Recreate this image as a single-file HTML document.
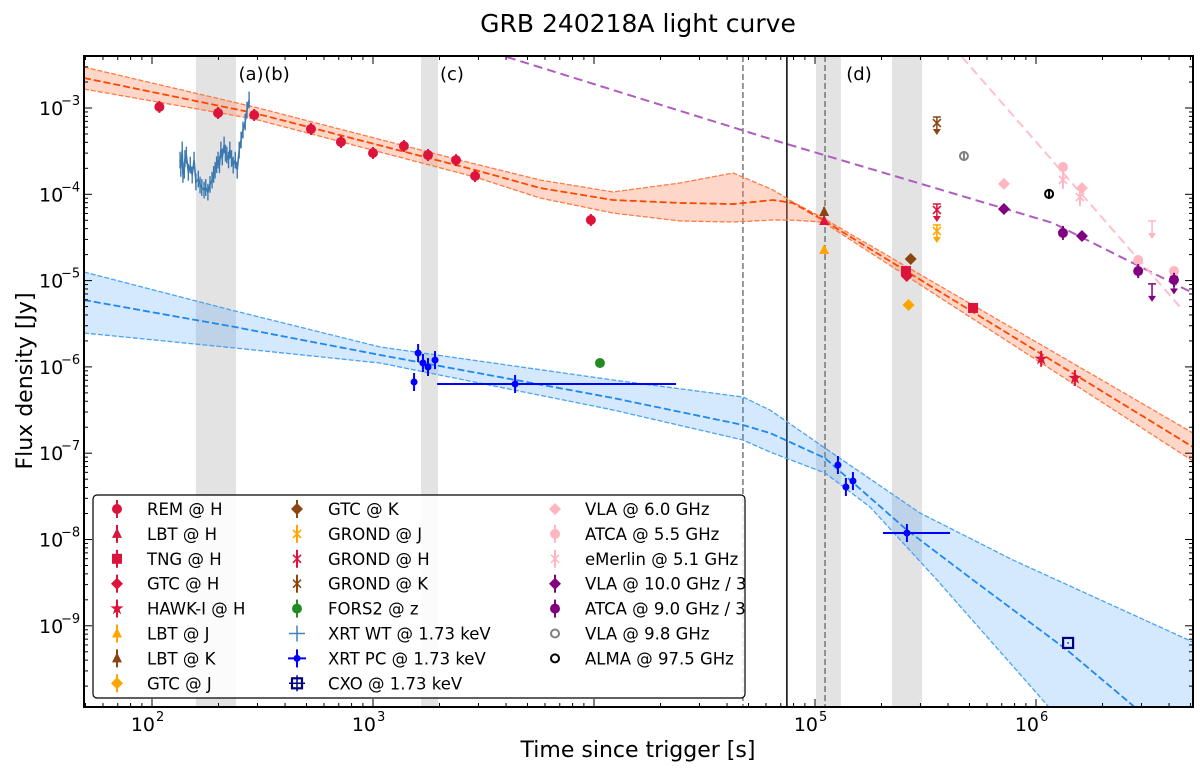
<!DOCTYPE html>
<html><head><meta charset="utf-8"><title>GRB 240218A light curve</title>
<style>
html,body{margin:0;padding:0;background:#fff;width:1200px;height:769px;overflow:hidden;}
svg{display:block;font-family:"DejaVu Sans","Liberation Sans",sans-serif;}
</style></head>
<body>
<svg id="chart" width="1200" height="769" viewBox="0 0 1200 769" xmlns="http://www.w3.org/2000/svg">
<defs><clipPath id="pc"><rect x="84" y="56" width="1109" height="651"/></clipPath></defs>
<text x="638" y="32" font-size="25" text-anchor="middle">GRB 240218A light curve</text>
<text x="638" y="757" font-size="22" text-anchor="middle">Time since trigger [s]</text>
<text transform="translate(32,381) rotate(-90)" font-size="22" text-anchor="middle">Flux density [Jy]</text>
<g id="bg" clip-path="url(#pc)"></g>
<g id="marks" clip-path="url(#pc)"></g>
<g id="axes"></g>
<g id="legend"></g>
</svg>
<script>
// ---------- data ----------
const remT=[108,199,290,524,716,1000,1380,1774,2375,2897,9680];
const remF=[1.03e-3,8.75e-4,8.3e-4,5.71e-4,4.04e-4,3.01e-4,3.63e-4,2.85e-4,2.49e-4,1.63e-4,5.04e-5];
const lbtHT=[110000], lbtHF=[4.91e-5];
const lbtJT=[110000], lbtJF=[2.26e-5];
const lbtKT=[110000], lbtKF=[6.24e-5];
const tngHT=[258000,519000], tngHF=[1.29e-5,4.82e-6];
const gtcHT=[260000], gtcHF=[1.13e-5];
const gtcJT=[265000], gtcJF=[5.21e-6];
const gtcKT=[271000], gtcKF=[1.78e-5];
const hawkT=[1055000,1500000], hawkF=[1.24e-6,7.43e-7];
const grondJT=[356000], grondJF=[3.76e-5];
const grondHT=[356000], grondHF=[6.58e-5];
const grondKT=[356000], grondKF=[6.7e-4];
const forsT=[10640], forsF=[1.11e-6];
const wtT=[134,135,137,138,140,141,143,146,149,152,155,158,162,165,168,172,175,179,183,187,190,193,196,199,202,205,208,212,215,218,222,225,229,233,238,243,248,253,258,264,269,275];
const wtF=[2.49e-4,2.0e-4,3.26e-4,1.7e-4,1.9e-4,2.6e-4,2.85e-4,1.8e-4,2.18e-4,1.67e-4,2.49e-4,1.39e-4,1.5e-4,1.28e-4,1.2e-4,1.12e-4,1.2e-4,1.06e-4,1.3e-4,1.46e-4,1.7e-4,1.9e-4,2.2e-4,2.49e-4,2.2e-4,3.26e-4,2.7e-4,3.73e-4,3.0e-4,2.85e-4,2.5e-4,3.26e-4,2.6e-4,2.18e-4,2.49e-4,1.9e-4,3.26e-4,4.26e-4,5.56e-4,6.88e-4,9.48e-4,1.24e-3];
const pcT=[1534,1600,1683,1774,1908,4395,127000,138000,148500,260600];
const pcF=[6.68e-7,1.45e-6,1.11e-6,9.98e-7,1.2e-6,6.34e-7,7.3e-8,4.06e-8,4.76e-8,1.19e-8];
const pcTlo=[1534,1600,1683,1774,1908,1950,127000,138000,148500,203000];
const pcThi=[1534,1600,1683,1774,1908,23500,127000,138000,148500,408000];
const cxoT=[1397000], cxoF=[6.33e-10];
const vla6T=[716000,1614000], vla6F=[1.32e-4,1.18e-4];
const atca55T=[1324000,2900000,4210000], atca55F=[2.07e-4,1.73e-5,1.29e-5];
const atca55UlT=[3350000], atca55UlF=[4.18e-5];
const emerT=[1324000,1580000], emerF=[1.47e-4,9.3e-5];
const vla10T=[716000,1614000], vla10F=[6.76e-5,3.29e-5];
const atca9T=[1324000,2900000,4210000], atca9F=[3.57e-5,1.29e-5,1.02e-5];
const atca9UlT=[3350000,4210000], atca9UlF=[7.8e-6,9.5e-6];
const vla98T=[472000], vla98F=[2.78e-4];
const almaT=[1146000], almaF=[1.01e-4];
// model curves (log10 t, log10 F)
const optLogT=[1.692,2.462,3.462,3.756,4.086,4.389,4.63,4.81,4.90,5.036,6.71];
const optMid=[-2.652,-3.058,-3.718,-3.927,-4.066,-4.10,-4.113,-4.066,-4.10,-4.298,-6.928];
const optUp=[-2.525,-2.988,-3.649,-3.834,-3.973,-3.869,-3.753,-3.95,-4.09,-4.275,-6.766];
const optLo=[-2.78,-3.127,-3.80,-4.043,-4.217,-4.309,-4.321,-4.298,-4.30,-4.321,-7.09];
const xMidT=[1.692,2.376,3.032,4.086,4.674,4.796,5.045,5.416,5.715,6.14,6.71];
const xMid=[-5.225,-5.538,-5.862,-6.36,-6.673,-6.766,-7.056,-7.89,-8.469,-9.28,-10.51];
const xUpT=[1.692,2.376,3.032,4.086,4.674,4.796,5.045,5.475,5.896,6.71];
const xUp=[-4.9,-5.352,-5.769,-6.152,-6.349,-6.499,-6.94,-7.693,-8.238,-9.188];
const xLoT=[1.692,2.376,3.032,4.086,4.674,4.796,5.045,5.249,5.552,6.054,6.71];
const xLo=[-5.607,-5.781,-5.955,-6.499,-6.847,-6.986,-7.229,-7.623,-8.469,-9.929,-11.83];
const radioLogT=[3.606,4.842,6.077,6.71];
const radioLog=[-2.409,-3.394,-4.333,-5.144];
const pinkLogT=[5.665,6.652];
const pinkLog=[-2.409,-5.306];
const vdashT=[47200,111000];
const vsolidT=[74600];
const shadeLo=[158,1650,101000,223000];
const shadeHi=[240,1970,131000,305000];
const xTicks=[100,1000,100000,1000000];
const xTickLabels=["2","3","5","6"];
const yTickExp=[-9,-8,-7,-6,-5,-4,-3];

// ---------- axes functions ----------
const L=84,R=1193,T=56,B=707;
const X=t=>152+221*(Math.log10(t)-2);
const Y=f=>108-86.3*(Math.log10(f)+3);
const XL=lt=>152+221*(lt-2);
const YL=lf=>108-86.3*(lf+3);
const NS="http://www.w3.org/2000/svg";
function mk(tag,attrs,parent){const e=document.createElementNS(NS,tag);for(const k in attrs)e.setAttribute(k,attrs[k]);parent.appendChild(e);return e;}
const bg=document.getElementById('bg'),marks=document.getElementById('marks'),axes=document.getElementById('axes'),leg=document.getElementById('legend');

shadeLo.forEach((lo,i)=>{const r=mk('rect',{x:X(lo),y:T,width:X(shadeHi[i])-X(lo),height:B-T,fill:'#e3e3e3'},bg);

});
[['(a)',251],['(b)',277],['(c)',452],['(d)',859]].forEach(([s,x])=>{const t=mk('text',{x:x,y:80,'font-size':18,'text-anchor':'middle'},axes);t.textContent=s;

});
vdashT.forEach(t=>{const l=mk('line',{x1:X(t),x2:X(t),y1:T,y2:B,stroke:'#777','stroke-width':1.5,'stroke-dasharray':'6,3'},bg);

});
vsolidT.forEach(t=>{const l=mk('line',{x1:X(t),x2:X(t),y1:T,y2:B,stroke:'#000','stroke-width':1.5},bg);

});

function pts(lt,lf){return lt.map((v,i)=>XL(v)+','+YL(lf[i])).join(' ');}
function band(lt1,up,lt2,lo,fill,edge,midT,mid,midc,name){
 const p=mk('polygon',{points:pts(lt1,up)+' '+lt2.slice().reverse().map((v,i)=>XL(v)+','+YL(lo.slice().reverse()[i])).join(' '),fill:fill,stroke:'none'},bg);
 
 
 [[lt1,up],[lt2,lo]].forEach(([a,b])=>{const e=mk('polyline',{points:pts(a,b),fill:'none',stroke:edge,'stroke-width':1.3,'stroke-dasharray':'5,2'},bg);
 
 });
 const m=mk('polyline',{points:pts(midT,mid),fill:'none',stroke:midc,'stroke-width':1.8,'stroke-dasharray':'7,3'},bg);
 
 
}
band(optLogT,optUp,optLogT,optLo,'rgba(255,140,100,0.35)','#ff7a45',optLogT,optMid,'#ff4500','optical');
band(xUpT,xUp,xLoT,xLo,'rgba(60,150,250,0.22)','#4aa3f5',xMidT,xMid,'#1e88ee','xray');
let rl=mk('polyline',{points:pts(radioLogT,radioLog),fill:'none',stroke:'#b05cbf','stroke-width':2,'stroke-dasharray':'9,5'},bg);


let pl=mk('polyline',{points:pts(pinkLogT,pinkLog),fill:'none',stroke:'#ffc0cb','stroke-width':2,'stroke-dasharray':'9,5'},bg);



// XRT WT trace with error bars
const wtG=mk('g',{},marks);


mk('polyline',{points:wtT.map((t,i)=>X(t)+','+Y(wtF[i])).join(' '),fill:'none',stroke:'#3b78b0','stroke-width':1.6},wtG);
wtT.forEach((t,i)=>{mk('line',{x1:X(t),x2:X(t),y1:Y(wtF[i]*1.25),y2:Y(wtF[i]/1.25),stroke:'#3b78b0','stroke-width':1.4},wtG);});

// ---------- markers ----------
function marker(g,type,x,y,c,s){
 s=s||5;
 if(type==='o')mk('circle',{cx:x,cy:y,r:s,fill:c},g);
 else if(type==='oo')mk('circle',{cx:x,cy:y,r:s-1,fill:'none',stroke:c,'stroke-width':2},g);
 else if(type==='^')mk('polygon',{points:`${x},${y-s-1} ${x-s},${y+s-1} ${x+s},${y+s-1}`,fill:c},g);
 else if(type==='s')mk('rect',{x:x-s,y:y-s,width:2*s,height:2*s,fill:c},g);
 else if(type==='D')mk('polygon',{points:`${x},${y-s-1} ${x+s+1},${y} ${x},${y+s+1} ${x-s-1},${y}`,fill:c},g);
 else if(type==='*'){let p=[];for(let k=0;k<10;k++){const a=-Math.PI/2+k*Math.PI/5,r=k%2?s*0.45:s+1;p.push((x+r*Math.cos(a))+','+(y+r*Math.sin(a)));}mk('polygon',{points:p.join(' '),fill:c},g);}
 else if(type==='x'){mk('path',{d:`M${x-4},${y-4}L${x+4},${y+4}M${x-4},${y+4}L${x+4},${y-4}`,stroke:c,'stroke-width':1.6},g);}
 else if(type==='+'){mk('path',{d:`M${x-8},${y}L${x+8},${y}M${x},${y-8}L${x},${y+8}`,stroke:c,'stroke-width':1.5},g);}
 else if(type==='p'){mk('circle',{cx:x,cy:y,r:3.5,fill:c},g);}
 else if(type==='sq'){mk('rect',{x:x-5,y:y-5,width:10,height:10,fill:'none',stroke:c,'stroke-width':2.2},g);mk('circle',{cx:x,cy:y,r:0.8,fill:c},g);}
}
function errbar(g,x,y,c,e){mk('line',{x1:x,x2:x,y1:y-e,y2:y+e,stroke:c,'stroke-width':2},g);}
function arrow(g,x,y,c,len){mk('line',{x1:x,x2:x,y1:y,y2:y+len,stroke:c,'stroke-width':1.5},g);mk('polygon',{points:`${x-4},${y+len-4} ${x+4},${y+len-4} ${x},${y+len+2}`,fill:c},g);}
function series(name,tArr,fArr,type,c,e,opt){
 opt=opt||{};
 tArr.forEach((t,i)=>{
  const g=mk('g',{},marks);
  
  
  const x=X(t),y=Y(fArr[i]);
  if(e)errbar(g,x,y,c,e);
  if(opt.ul){mk('line',{x1:x-4,x2:x+4,y1:y-6,y2:y-6,stroke:c,'stroke-width':1.5},g);arrow(g,x,y-6,c,16);}
  if(opt.xerr){mk('line',{x1:X(pcTlo[i]),x2:X(pcThi[i]),y1:y,y2:y,stroke:c,'stroke-width':2},g);}
  marker(g,type,x,y,c,opt.s);
 });
}
const RED='#dc143c',ORA='#ffa500',BRN='#8b4513',PNK='#ffb6c1',PUR='#800080';
series('rem-h',remT,remF,'o',RED,6);
series('lbt-k',lbtKT,lbtKF,'^',BRN,5);
series('lbt-h',lbtHT,lbtHF,'^',RED,4);
series('lbt-j',lbtJT,lbtJF,'^',ORA,0);
series('tng-h',tngHT,tngHF,'s',RED,4);
series('gtc-h',gtcHT,gtcHF,'D',RED,4);
series('gtc-j',gtcJT,gtcJF,'D',ORA,0);
series('gtc-k',gtcKT,gtcKF,'D',BRN,0);
series('hawki-h',hawkT,hawkF,'*',RED,8,{s:6});
series('grond-k',grondKT,grondKF,'x',BRN,0,{ul:true});
series('grond-h',grondHT,grondHF,'x',RED,0,{ul:true});
series('grond-j',grondJT,grondJF,'x',ORA,0,{ul:true});
series('fors2-z',forsT,forsF,'o','#228b22',0);
series('xrt-pc',pcT,pcF,'p','#0000ff',9,{xerr:true});
series('cxo',cxoT,cxoF,'sq','#000080',0);
series('vla-6ghz',vla6T,vla6F,'D',PNK,0);
series('atca-5.5ghz',atca55T,atca55F,'o',PNK,0);
series('atca-5.5ghz-ul',atca55UlT,atca55UlF,'o',PNK,0,{ul:true,s:0.01});
series('emerlin',emerT,emerF,'x',PNK,9);
series('vla-10ghz',vla10T,vla10F,'D',PUR,0);
series('atca-9ghz',atca9T,atca9F,'o',PUR,7);
series('atca-9ghz-ul',atca9UlT,atca9UlF,'o',PUR,0,{ul:true,s:0.01});
series('vla-9.8ghz',vla98T,vla98F,'oo','#808080',5);
series('alma',almaT,almaF,'oo','#000',5);

// ---------- axes ----------
let fr=mk('rect',{x:L,y:T,width:R-L,height:B-T,fill:'none',stroke:'#000','stroke-width':2},axes);


for(let d=1;d<=6;d++)for(let m=1;m<=9;m++){const t=m*Math.pow(10,d),x=X(t);if(x<L||x>R)continue;const len=m===1?8:4;
 mk('line',{x1:x,x2:x,y1:B,y2:B-len,stroke:'#000','stroke-width':1},axes);mk('line',{x1:x,x2:x,y1:T,y2:T+len,stroke:'#000','stroke-width':1},axes);}
xTicks.forEach((t,i)=>{const tx=mk('text',{x:X(t)+3,y:731,'font-size':19,'text-anchor':'end'},axes);tx.textContent='10';
 
 
 const sp=mk('text',{x:X(t)+4,y:721,'font-size':13},axes);sp.textContent=xTickLabels[i];});
for(let e=-10;e<=-3;e++)for(let m=1;m<=9;m++){const f=m*Math.pow(10,e),y=Y(f);if(y<T||y>B)continue;const len=m===1?8:4;
 mk('line',{x1:L,x2:L+len,y1:y,y2:y,stroke:'#000','stroke-width':1},axes);mk('line',{x1:R,x2:R-len,y1:y,y2:y,stroke:'#000','stroke-width':1},axes);}
yTickExp.forEach(e=>{const y=Y(Math.pow(10,e));const tx=mk('text',{x:39,y:y+7,'font-size':19},axes);tx.textContent='10';
 
 
 const sp=mk('text',{x:61,y:y-3,'font-size':13},axes);sp.textContent='\u2212'+(-e);});

// ---------- legend ----------
const lb=mk('rect',{x:93,y:495,width:652,height:203,rx:4,fill:'rgba(255,255,255,0.85)',stroke:'#000','stroke-width':1.2},leg);


const legItems=[
 [0,'REM @ H','o',RED,1],[0,'LBT @ H','^',RED,1],[0,'TNG @ H','s',RED,1],[0,'GTC @ H','D',RED,1],[0,'HAWK-I @ H','*',RED,1],[0,'LBT @ J','^',ORA,1],[0,'LBT @ K','^',BRN,1],[0,'GTC @ J','D',ORA,1],
 [1,'GTC @ K','D',BRN,1],[1,'GROND @ J','x',ORA,1],[1,'GROND @ H','x',RED,1],[1,'GROND @ K','x',BRN,1],[1,'FORS2 @ z','o','#228b22',1],[1,'XRT WT @ 1.73 keV','+','#4682b4',0],[1,'XRT PC @ 1.73 keV','p','#0000ff',0],[1,'CXO @ 1.73 keV','sq','#000080',0],
 [2,'VLA @ 6.0 GHz','D',PNK,0],[2,'ATCA @ 5.5 GHz','o',PNK,1],[2,'eMerlin @ 5.1 GHz','x',PNK,1],[2,'VLA @ 10.0 GHz / 3','D',PUR,1],[2,'ATCA @ 9.0 GHz / 3','o',PUR,1],[2,'VLA @ 9.8 GHz','oo','#808080',0],[2,'ALMA @ 97.5 GHz','oo','#000',0]];
const colMX=[117,297,555],colTX=[147,328,585];
const cnt=[0,0,0];
legItems.forEach(([c,label,type,col,eb])=>{
 const y=509+24.9*cnt[c]++;
 const g=mk('g',{},leg);
 
 
 if(eb)errbar(g,colMX[c],y,col,9);
 if(type==='p'){mk('line',{x1:colMX[c]-9,x2:colMX[c]+9,y1:y,y2:y,stroke:col,'stroke-width':2},g);errbar(g,colMX[c],y,col,9);}
 if(type==='sq'){mk('path',{d:`M${colMX[c]-8},${y}H${colMX[c]+8}M${colMX[c]},${y-8}V${y+8}`,stroke:col,'stroke-width':1.5},g);}
 marker(g,type,colMX[c],y,col,type==='*'?6:5);
 const t=mk('text',{x:colTX[c],y:y+6,'font-size':16.5},g);t.textContent=label;
});
</script>
</body></html>
